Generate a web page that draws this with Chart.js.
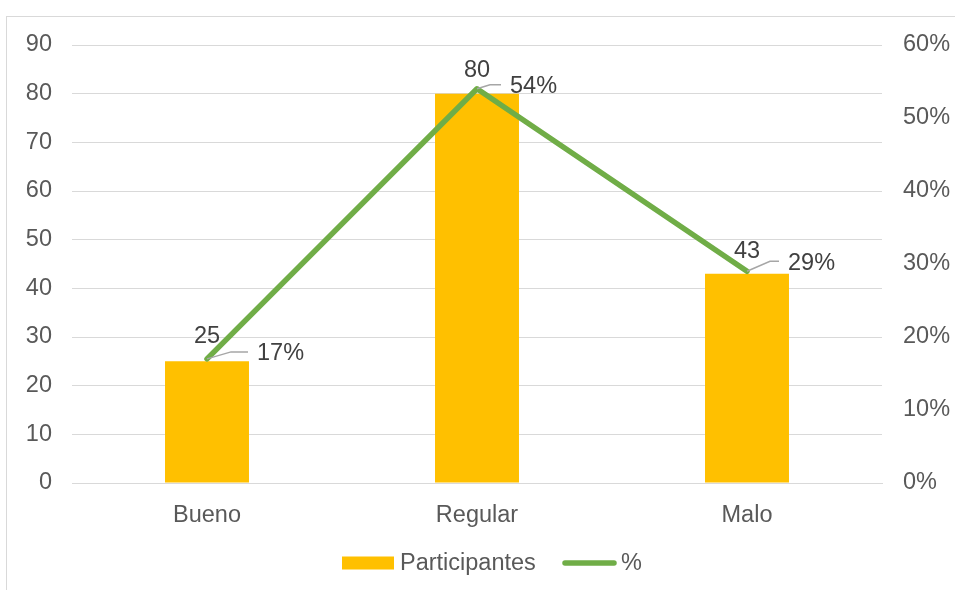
<!DOCTYPE html>
<html>
<head>
<meta charset="utf-8">
<script src="https://cdn.jsdelivr.net/npm/chart.js@4.4.0/dist/chart.umd.min.js"></script>
<style>
html,body{margin:0;padding:0;background:#fff;}
#frame{position:absolute;left:6px;top:16px;width:1000px;height:700px;border-left:1px solid #d9d9d9;border-top:1px solid #d9d9d9;}
#wrap{position:absolute;left:0;top:0;width:955px;height:590px;}
</style>
</head>
<body>
<div id="frame"></div>
<div id="wrap"><canvas id="c" width="955" height="590"></canvas></div>
<script>
const categories = ["Bueno", "Regular", "Malo"];
const participantes = [25, 80, 43];
const porcentaje = [0.17, 0.54, 0.29];
const leftTicks = [0, 10, 20, 30, 40, 50, 60, 70, 80, 90];
const rightTicks = [0, 0.1, 0.2, 0.3, 0.4, 0.5, 0.6];

const FONT = "'Liberation Sans', Arial, sans-serif";
const FS = 23.5;

const labelPlugin = {
  id: 'labels',
  afterDatasetsDraw(chart, args, opts) {
    const ctx = chart.ctx;
    ctx.save();
    ctx.font = FS + 'px ' + FONT;
    ctx.fillStyle = '#404040';
    const bm = chart.getDatasetMeta(1);
    bm.data.forEach((el, i) => {
      ctx.textAlign = 'center';
      ctx.textBaseline = 'middle';
      ctx.fillText(String(participantes[i]), el.x, el.y - opts.barGap[i]);
    });
    const lm = chart.getDatasetMeta(0);
    lm.data.forEach((el, i) => {
      const off = opts.offsets[i];
      const tx = el.x + off[0];
      const ty = el.y + off[1];
      ctx.strokeStyle = '#a6a6a6';
      ctx.lineWidth = 1.5;
      ctx.beginPath();
      ctx.moveTo(el.x, el.y);
      ctx.lineTo(tx - off[2], ty - 2);
      ctx.lineTo(tx - 9, ty - 2);
      ctx.stroke();
      ctx.textAlign = 'left';
      ctx.textBaseline = 'middle';
      ctx.fillText(Math.round(porcentaje[i] * 100) + '%', tx, ty);
    });
    ctx.restore();
  }
};

const legendPlugin = {
  id: 'customLegend',
  afterDraw(chart) {
    const ctx = chart.ctx;
    ctx.save();
    const y = 563;
    ctx.fillStyle = '#FFC000';
    ctx.fillRect(342, y - 6.5, 52, 13);
    ctx.font = FS + 'px ' + FONT;
    ctx.fillStyle = '#595959';
    ctx.textAlign = 'left';
    ctx.textBaseline = 'middle';
    ctx.fillText(chart.data.datasets[1].label, 400, y + 1);
    ctx.strokeStyle = '#70AD47';
    ctx.lineWidth = 5.5;
    ctx.lineCap = 'round';
    ctx.beginPath();
    ctx.moveTo(565, y);
    ctx.lineTo(614, y);
    ctx.stroke();
    ctx.fillText(chart.data.datasets[0].label, 621, y + 1);
    ctx.restore();
  }
};

const tickFont = { family: FONT, size: FS };

new Chart(document.getElementById('c'), {
  data: {
    labels: categories,
    datasets: [
      {
        type: 'line',
        label: '%',
        data: porcentaje,
        yAxisID: 'y2',
        borderColor: '#70AD47',
        backgroundColor: '#70AD47',
        borderWidth: 5.5,
        pointRadius: 0,
        tension: 0,
        order: 0,
        borderCapStyle: 'round',
        borderJoinStyle: 'round'
      },
      {
        type: 'bar',
        label: 'Participantes',
        data: participantes,
        yAxisID: 'y',
        backgroundColor: '#FFC000',
        barPercentage: 1,
        categoryPercentage: 0.311,
        order: 1
      }
    ]
  },
  options: {
    responsive: false,
    animation: false,
    devicePixelRatio: 1,
    layout: { padding: { top: 45, bottom: 57, left: 0, right: 0 } },
    plugins: {
      legend: { display: false },
      tooltip: { enabled: false },
      labels: {
        offsets: [[50, -5, 26], [33, -2, 20], [41, -8, 18]],
        barGap: [25, 23, 22]
      }
    },
    scales: {
      x: {
        grid: { display: false },
        border: { display: true, color: '#d9d9d9', width: 1 },
        ticks: { font: tickFont, color: '#595959', padding: 10, maxRotation: 0 },
        afterFit(s) { s.height = 50; }
      },
      y: {
        position: 'left',
        min: 0, max: 90,
        afterBuildTicks(s) { s.ticks = leftTicks.map(v => ({ value: v })); },
        grid: { color: '#d9d9d9', lineWidth: 1, drawTicks: false },
        border: { display: false },
        ticks: { font: tickFont, color: '#595959', padding: 20 },
        afterFit(s) { s.width = 72; }
      },
      y2: {
        position: 'right',
        min: 0, max: 0.6,
        afterBuildTicks(s) { s.ticks = rightTicks.map(v => ({ value: v })); },
        grid: { display: false, drawTicks: false },
        border: { display: false },
        ticks: {
          font: tickFont, color: '#595959', padding: 21,
          callback: v => Math.round(v * 100) + '%'
        },
        afterFit(s) { s.width = 73; }
      }
    }
  },
  plugins: [labelPlugin, legendPlugin]
});
</script>
</body>
</html>
